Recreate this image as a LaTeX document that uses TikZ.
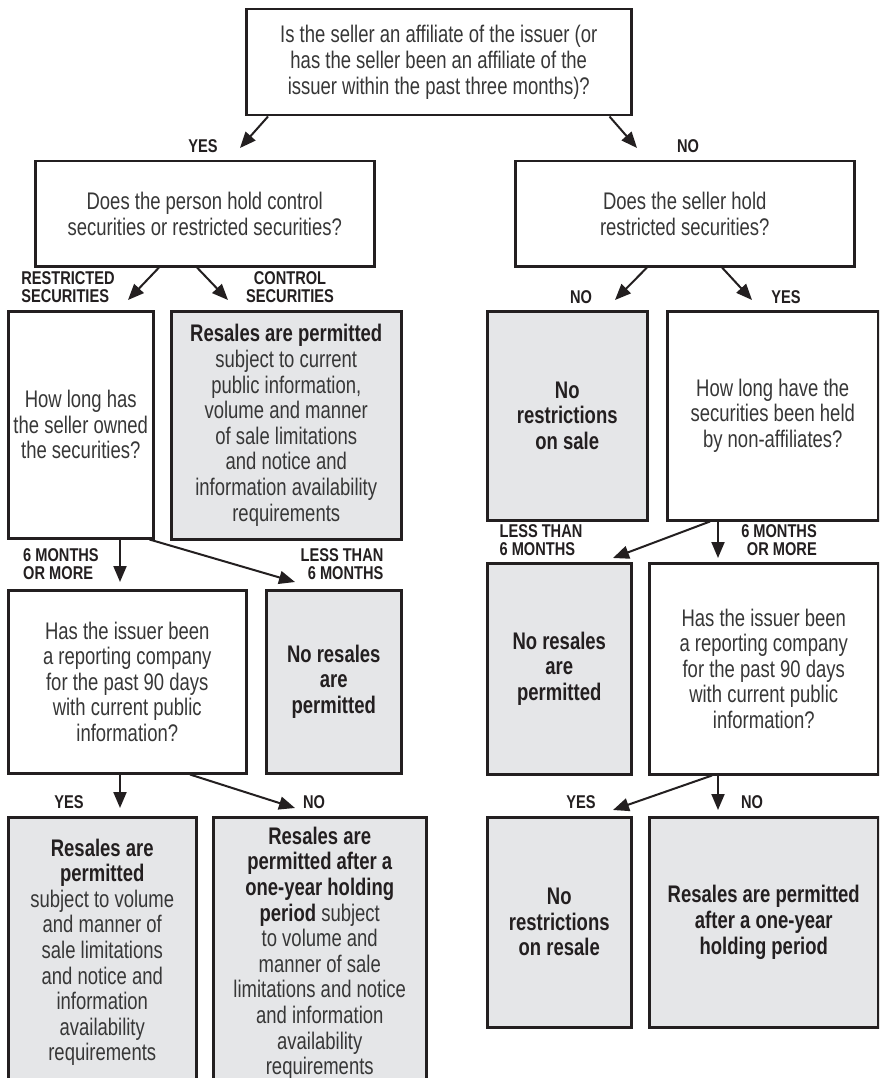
\documentclass[tikz,border=0pt]{standalone}
\usepackage{fontspec}
\setmainfont[FakeStretch=0.77]{Liberation Sans}
\newfontfamily\labfont[FakeStretch=0.79]{Liberation Sans}
\usetikzlibrary{arrows.meta}
\definecolor{linec}{RGB}{35,31,32}
\definecolor{boxg}{RGB}{229,230,232}
\definecolor{txt}{RGB}{55,55,55}
\newcommand\boldt[1]{{\bfseries\color{linec}#1}}
\begin{document}
\begin{tikzpicture}[x=1pt,y=-1pt,
  box/.style={draw=linec,line width=2.5pt,align=center,inner sep=0pt,anchor=north west,text=txt,font=\fontsize{24}{25.6}\selectfont},
  gbox/.style={box,fill=boxg},
  lab/.style={font=\labfont\bfseries\fontsize{18.5}{17.7}\selectfont,text=linec,inner sep=0pt},
  arr/.style={draw=linec,line width=2pt,-{Triangle[length=16pt,width=13pt]}}]
\useasboundingbox (0,0) rectangle (879,1078);
\fill[white] (0,0) rectangle (879,1078);
\clip (0,0) rectangle (879,1078);

% boxes
\node[box,minimum width=385pt,minimum height=106pt] (top) at (245,8)
  {Is the seller an affiliate of the issuer (or\\has the seller been an affiliate of the\\issuer within the past three months)?};
\node[box,minimum width=339pt,minimum height=105pt] (q1L) at (34,160)
  {Does the person hold control\\securities or restricted securities?};
\node[box,minimum width=339pt,minimum height=105pt] (q1R) at (514,160)
  {Does the seller hold\\restricted securities?};
\node[box,minimum width=145pt,minimum height=227pt] (hlL) at (7,310)
  {How long has\\the seller owned\\the securities?};
\node[gbox,minimum width=230pt,minimum height=228pt] (ctl) at (170,310)
  {\boldt{Resales are permitted}\\subject to current\\public information,\\volume and manner\\of sale limitations\\and notice and\\information availability\\requirements};
\node[gbox,minimum width=160pt,minimum height=209pt] (nrs) at (486,310)
  {\boldt{No}\\\boldt{restrictions}\\\boldt{on sale}};
\node[box,minimum width=211pt,minimum height=209pt] (hlR) at (666,310)
  {How long have the\\securities been held\\by non-affiliates?};
\node[box,minimum width=238pt,minimum height=183pt] (rpL) at (7,589)
  {Has the issuer been\\a reporting company\\for the past 90 days\\with current public\\information?};
\node[gbox,minimum width=135pt,minimum height=183pt] (nrL) at (265,589)
  {\boldt{No resales}\\\boldt{are}\\\boldt{permitted}};
\node[gbox,minimum width=144pt,minimum height=211pt] (nrR) at (486,562)
  {\boldt{No resales}\\\boldt{are}\\\boldt{permitted}};
\node[box,minimum width=229pt,minimum height=211pt] (rpR) at (648,562)
  {Has the issuer been\\a reporting company\\for the past 90 days\\with current public\\information?};
\node[gbox,minimum width=188pt,minimum height=270pt] (rsL) at (7,816)
  {\boldt{Resales are}\\\boldt{permitted}\\subject to volume\\and manner of\\sale limitations\\and notice and\\information\\availability\\requirements};
\node[gbox,minimum width=213pt,minimum height=272pt] (rsM) at (212,816)
  {\boldt{Resales are}\\\boldt{permitted after a}\\\boldt{one-year holding}\\\boldt{period} subject\\to volume and\\manner of sale\\limitations and notice\\and information\\availability\\requirements};
\node[gbox,minimum width=144pt,minimum height=210pt] (nrsR) at (486,816)
  {\boldt{No}\\\boldt{restrictions}\\\boldt{on resale}};
\node[gbox,minimum width=229pt,minimum height=210pt] (rsR) at (648,816)
  {\boldt{Resales are permitted}\\\boldt{after a one-year}\\\boldt{holding period}};

% labels
\node[lab] (lyes1) at (203,146) {YES};
\node[lab] (lno1) at (688,146) {NO};
\node[lab,align=left] (lrs) at (68,287) {RESTRICTED\\SECURITIES};
\node[lab,align=center] (lcs) at (290,287) {CONTROL\\SECURITIES};
\node[lab] (lno2) at (581,297) {NO};
\node[lab] (lyes2) at (786,297) {YES};
\node[lab,align=left] (l6a) at (61,564) {6 MONTHS\\OR MORE};
\node[lab,align=right] (lla) at (342,564) {LESS THAN\\6 MONTHS};
\node[lab,align=left] (llb) at (541,540) {LESS THAN\\6 MONTHS};
\node[lab,align=right] (l6b) at (779,540) {6 MONTHS\\OR MORE};
\node[lab] (lyes3) at (69,802) {YES};
\node[lab] (lno3) at (314,802) {NO};
\node[lab] (lyes4) at (581,802) {YES};
\node[lab] (lno4) at (752,802) {NO};

% arrow tips
\coordinate (t1) at (240,148);
\coordinate (t2) at (637,148);
\coordinate (t3) at (128,300);
\coordinate (t4) at (228,300);
\coordinate (t5) at (615,300);
\coordinate (t6) at (752,300);
\coordinate (t7) at (120,582);
\coordinate (t8) at (295,582);
\coordinate (t9) at (613,558);
\coordinate (t10) at (718,558);
\coordinate (t11) at (120,808);
\coordinate (t12) at (295,808);
\coordinate (t13) at (613,810);
\coordinate (t14) at (718,810);

% connectors
\draw[arr] ([xshift=23pt]top.south west) -- (t1);
\draw[arr] ([xshift=-23pt]top.south east) -- (t2);
\draw[arr] ([xshift=125pt]q1L.south west) -- (t3);
\draw[arr] ([xshift=163pt]q1L.south west) -- (t4);
\draw[arr] ([xshift=133pt]q1R.south west) -- (t5);
\draw[arr] ([xshift=208pt]q1R.south west) -- (t6);
\draw[arr] ([xshift=113pt]hlL.south west) -- (t7);
\draw[arr] ([xshift=-5pt]hlL.south east) -- (t8);
\draw[arr] ([xshift=44pt]hlR.south west) -- (t9);
\draw[arr] ([xshift=52pt]hlR.south west) -- (t10);
\draw[arr] ([xshift=113pt]rpL.south west) -- (t11);
\draw[arr] ([xshift=183pt]rpL.south west) -- (t12);
\draw[arr] ([xshift=64pt]rpR.south west) -- (t13);
\draw[arr] ([xshift=70pt]rpR.south west) -- (t14);
\end{tikzpicture}
\end{document}
